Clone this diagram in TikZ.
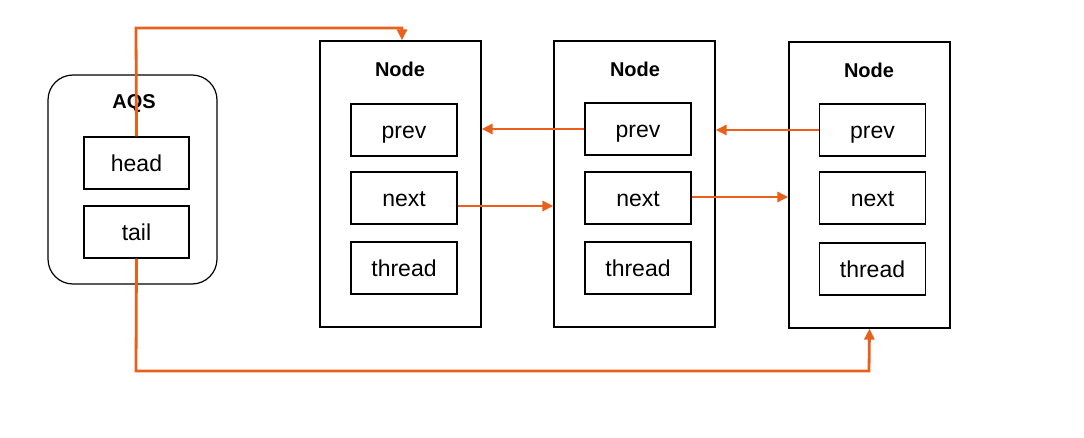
\documentclass[tikz,border=0pt]{standalone}
\usepackage{fontspec}
\setmainfont{Liberation Sans}
\usetikzlibrary{arrows.meta}
\definecolor{arr}{HTML}{E8601C}
\begin{document}
\begin{tikzpicture}[x=1pt,y=-1pt,
  outer/.style={draw=black,line width=1.2pt,inner sep=0pt},
  field/.style={draw=black,line width=1.2pt,minimum width=106pt,minimum height=52pt,inner sep=0pt,text height=20pt,text depth=2pt,font=\fontsize{23}{25}\selectfont},
  title/.style={font=\bfseries\fontsize{20}{22}\selectfont},
  link/.style={draw=arr,line width=2.8pt,-{Triangle[length=11pt,width=10pt]}}]
\useasboundingbox (0,0) rectangle (1084,438);
% AQS
\node[outer,rounded corners=25pt,minimum width=169pt,minimum height=209pt] (aqs) at (132.5,179.5) {};
\node[title] (aqst) at (134,103) {AQS};
\node[field,minimum width=105pt] (head) at (136.5,163) {head};
\node[field,minimum width=105pt] (tail) at (136.5,232) {tail};
% Node 1
\node[outer,minimum width=161pt,minimum height=286pt] (n1) at (400.5,184) {};
\node[title] (n1t) at (400,69) {Node};
\node[field] (p1) at (404,130) {prev};
\node[field] (x1) at (404,198) {next};
\node[field] (t1) at (404,268) {thread};
% Node 2
\node[outer,minimum width=161pt,minimum height=286pt] (n2) at (634.5,184) {};
\node[title] (n2t) at (635,69) {Node};
\node[field] (p2) at (638,129) {prev};
\node[field] (x2) at (638,198) {next};
\node[field] (t2) at (638,268) {thread};
% Node 3
\node[outer,minimum width=161pt,minimum height=286pt] (n3) at (869.5,185) {};
\node[title] (n3t) at (869,70) {Node};
\node[field] (p3) at (872.5,130) {prev};
\node[field] (x3) at (872.5,198) {next};
\node[field] (t3) at (872.5,269) {thread};
% links
\draw[link] (head.north) -- (136,28) -- (402,28) -- (n1.north -| 402,0);
\draw[link] (tail.south) -- (136,371) -- (869,371) -- (n3.south);
\draw[link] (p2.west) -- (p2.west -| n1.east);
\draw[link] (p3.west) -- (p3.west -| n2.east);
\draw[link] (x1.east |- 0,206) -- (n2.west |- 0,206);
\draw[link] (x2.east |- 0,197) -- (n3.west |- 0,197);
\end{tikzpicture}
\end{document}
